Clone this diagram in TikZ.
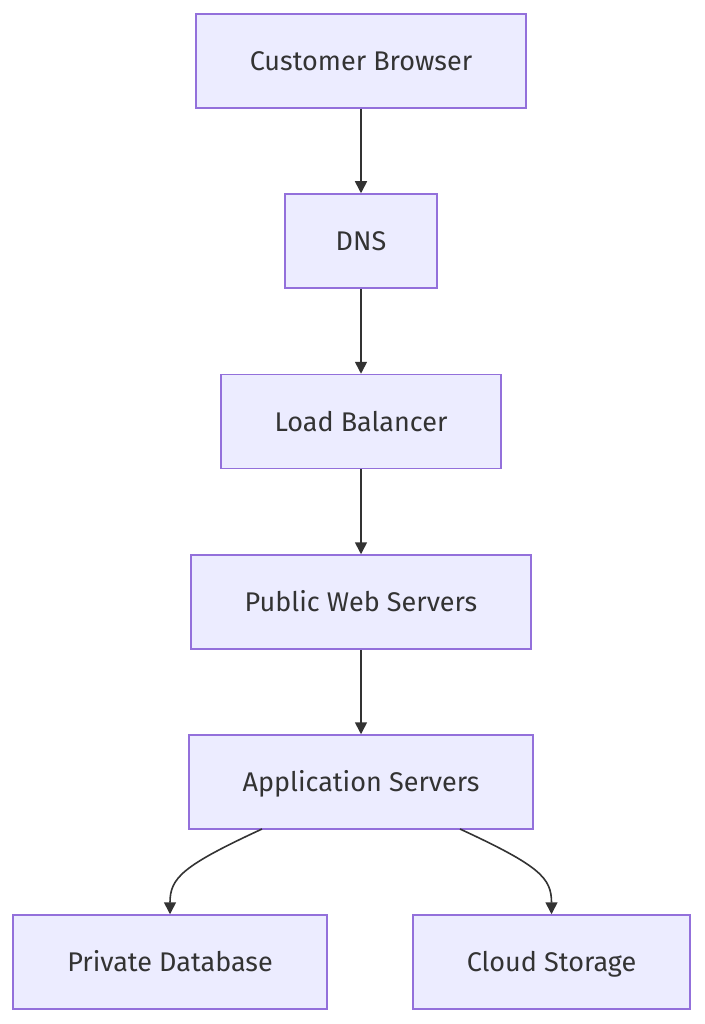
\documentclass[tikz,border=0pt]{standalone}
\usepackage{fontspec}
\setmainfont{Fira Sans}
\usetikzlibrary{arrows.meta}
\definecolor{nodefill}{HTML}{ECECFF}
\definecolor{nodeline}{HTML}{9370DB}
\definecolor{txt}{HTML}{333333}
\begin{document}
\begin{tikzpicture}[x=1pt,y=-1pt,
  box/.style={draw=nodeline,fill=nodefill,line width=1.5pt,minimum height=94pt,inner sep=0pt,
    text=txt,font=\fontsize{27}{32}\selectfont,text height=22pt,text depth=3pt},
  link/.style={draw=txt,line width=1.6pt,-{Triangle[length=12pt,width=12pt]}}]
\useasboundingbox (0,0) rectangle (704,1024);
\node[box,minimum width=330pt] (cb) at (361,61) {Customer Browser};
\node[box,minimum width=152pt] (dns) at (361,241) {DNS};
\node[box,minimum width=280pt] (lb) at (361,421.5) {Load Balancer};
\node[box,minimum width=340pt] (pws) at (361,602) {Public Web Servers};
\node[box,minimum width=344pt] (as) at (361,782) {Application Servers};
\node[box,minimum width=314pt] (pd) at (170,962) {Private Database};
\node[box,minimum width=277pt] (cs) at (551.5,962) {Cloud Storage};
\draw[link] (cb) -- (dns);
\draw[link] (dns) -- (lb);
\draw[link] (lb) -- (pws);
\draw[link] (pws) -- (as);
\coordinate (asl) at (262,829);
\coordinate (asr) at (460,829);
\draw[link] (asl) .. controls (182,866) and (170,878) .. (pd.north);
\draw[link] (asr) .. controls (540,866) and (551.5,878) .. (cs.north);
\end{tikzpicture}
\end{document}
